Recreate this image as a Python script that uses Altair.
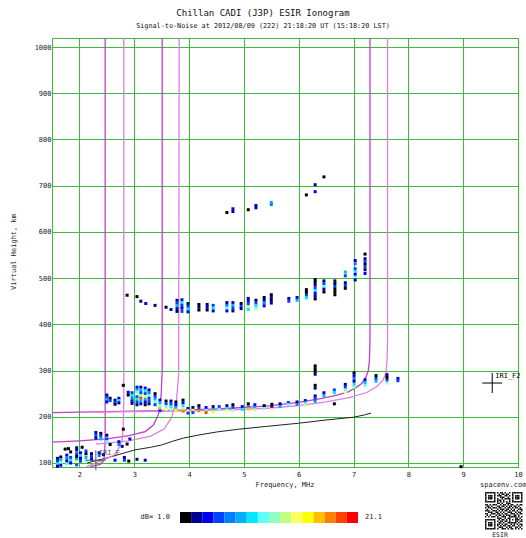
import altair as alt
import pandas as pd

# ---------------- data ----------------
X_TICKS = [2, 3, 4, 5, 6, 7, 8, 9, 10]
Y_TICKS = [100, 200, 300, 400, 500, 600, 700, 800, 900, 1000]
F_DOMAIN = [1.5, 10.0]
H_DOMAIN = [91.3, 1019.5]

SNR_MIN, SNR_MAX = 1.0, 21.1
SNR_COLORS = ["#000000", "#000090", "#0000f0", "#0040ff", "#0080ff", "#00b0ff",
              "#00e8ff", "#60ffff", "#90ffc0", "#c0ff80", "#ffff60", "#ffff00",
              "#ffc000", "#ff8000", "#ff4000", "#ff0000"]

# (frequency MHz, virtual height km, SNR dB)
F2_TRACE = [
    (2.50, 247, 3), (2.50, 242, 5), (2.50, 237, 8), (2.50, 232, 4),
    (2.56, 240, 2), (2.56, 235, 6),
    (2.65, 236, 3), (2.65, 231, 5), (2.65, 227, 3),
    (2.72, 240, 4), (2.72, 235, 9), (2.72, 230, 3),
    (2.80, 268, 2),
    (2.89, 253, 4), (2.89, 247, 2),
    (2.96, 252, 5), (2.96, 246, 9), (2.96, 240, 7), (2.96, 234, 4), (2.96, 229, 3),
    (3.05, 264, 4), (3.05, 259, 7), (3.05, 254, 10), (3.05, 248, 14), (3.05, 243, 6),
    (3.05, 238, 9), (3.05, 232, 5), (3.05, 226, 3),
    (3.12, 264, 3), (3.12, 258, 8), (3.12, 252, 5), (3.12, 246, 10), (3.12, 240, 19),
    (3.12, 234, 8), (3.12, 228, 4),
    (3.20, 262, 4), (3.20, 256, 9), (3.20, 250, 6), (3.20, 244, 16), (3.20, 238, 8),
    (3.20, 232, 4), (3.20, 226, 2),
    (3.27, 258, 3), (3.27, 252, 7), (3.27, 246, 10), (3.27, 240, 5), (3.27, 234, 6), (3.27, 228, 3),
    (3.38, 250, 2), (3.38, 244, 5), (3.38, 238, 8), (3.38, 232, 11), (3.38, 226, 5),
    (3.47, 236, 4), (3.47, 230, 8), (3.47, 224, 12), (3.47, 218, 17), (3.47, 213, 6),
    (3.58, 234, 2), (3.58, 228, 5), (3.58, 222, 10), (3.58, 216, 14),
    (3.67, 234, 3), (3.67, 228, 6), (3.67, 222, 9), (3.67, 216, 12),
    (3.76, 232, 2), (3.76, 226, 4), (3.76, 220, 8), (3.76, 214, 15),
    (3.89, 236, 1), (3.89, 230, 4), (3.89, 224, 9), (3.89, 218, 13), (3.89, 212, 18),
    (3.98, 218, 4), (3.98, 213, 14), (3.98, 208, 5),
    (4.07, 220, 3), (4.07, 214, 16), (4.07, 209, 6),
    (4.18, 224, 2), (4.18, 218, 6), (4.18, 213, 18),
    (4.31, 220, 4), (4.31, 214, 10), (4.31, 209, 19),
    (4.44, 222, 3), (4.44, 216, 8), (4.44, 211, 15),
    (4.55, 222, 5), (4.55, 216, 11),
    (4.69, 224, 3), (4.69, 218, 9), (4.69, 213, 14),
    (4.80, 226, 2), (4.80, 220, 6), (4.80, 214, 12),
    (4.97, 222, 4), (4.97, 216, 9),
    (5.08, 228, 2), (5.08, 222, 7), (5.08, 217, 17),
    (5.20, 226, 4), (5.20, 220, 8), (5.20, 215, 13),
    (5.37, 224, 2), (5.37, 218, 10),
    (5.51, 227, 1), (5.51, 221, 4), (5.51, 216, 14),
    (5.66, 228, 3), (5.66, 222, 8),
    (5.81, 231, 5), (5.81, 226, 10),
    (5.97, 232, 3), (5.97, 227, 7),
    (6.12, 235, 4), (6.12, 230, 9), (6.12, 226, 13),
    (6.30, 310, 1), (6.30, 304, 2), (6.30, 298, 1), (6.30, 292, 3),
    (6.30, 268, 2), (6.30, 262, 3),
    (6.30, 245, 3), (6.30, 240, 5), (6.30, 234, 7),
    (6.46, 252, 4), (6.46, 246, 8),
    (6.65, 258, 5), (6.65, 252, 9), (6.65, 228, 1),
    (6.85, 270, 3), (6.85, 264, 6), (6.85, 258, 10), (6.85, 252, 14),
    (7.01, 295, 2), (7.01, 289, 4), (7.01, 283, 7), (7.01, 277, 3), (7.01, 270, 9), (7.01, 264, 12),
    (7.21, 280, 4), (7.21, 274, 8), (7.21, 268, 11),
    (7.41, 289, 2), (7.41, 283, 5), (7.41, 277, 8),
    (7.61, 291, 3), (7.61, 285, 2), (7.61, 279, 6), (7.61, 273, 12),
    (7.81, 283, 4), (7.81, 278, 6),
]

F2_HOP2 = [
    (2.87, 463, 1), (3.05, 460, 2), (3.12, 450, 3), (3.21, 445, 4), (3.38, 441, 3),
    (3.58, 437, 2), (3.67, 432, 4),
    (3.78, 452, 3), (3.78, 446, 5), (3.78, 440, 8), (3.78, 434, 4), (3.78, 428, 2),
    (3.87, 453, 4), (3.87, 447, 9), (3.87, 441, 6), (3.87, 435, 3), (3.87, 428, 5),
    (3.98, 445, 3), (3.98, 439, 6), (3.98, 433, 9), (3.98, 427, 4),
    (4.18, 443, 2), (4.18, 437, 3), (4.18, 431, 1),
    (4.33, 443, 3), (4.33, 437, 4), (4.33, 431, 2),
    (4.44, 441, 6), (4.44, 435, 9), (4.44, 429, 4),
    (4.69, 447, 3), (4.69, 441, 7), (4.69, 435, 10), (4.69, 429, 4),
    (4.80, 447, 4), (4.80, 441, 8), (4.80, 435, 5), (4.80, 429, 3),
    (4.95, 445, 2), (4.95, 439, 5), (4.95, 434, 3),
    (5.08, 456, 3), (5.08, 450, 4), (5.08, 444, 6), (5.08, 438, 13), (5.08, 432, 9),
    (5.22, 452, 2), (5.22, 446, 5), (5.22, 440, 9), (5.22, 434, 12),
    (5.37, 458, 1), (5.37, 452, 3), (5.37, 446, 7), (5.37, 440, 4),
    (5.50, 464, 1), (5.50, 458, 4), (5.50, 452, 2), (5.50, 446, 3),
    (5.82, 456, 3), (5.82, 450, 5),
    (5.97, 458, 4), (5.97, 452, 8),
    (6.14, 475, 1), (6.14, 469, 2), (6.14, 463, 5), (6.14, 457, 9),
    (6.30, 497, 2), (6.30, 491, 1), (6.30, 485, 3), (6.30, 479, 6), (6.30, 473, 9),
    (6.30, 467, 4), (6.30, 461, 3), (6.30, 455, 2),
    (6.46, 494, 3), (6.46, 488, 6), (6.46, 482, 10), (6.46, 476, 4), (6.46, 470, 2),
    (6.66, 494, 3), (6.66, 488, 2), (6.66, 482, 5), (6.66, 476, 1), (6.66, 470, 2), (6.66, 464, 1),
    (6.85, 513, 8), (6.85, 505, 5), (6.85, 490, 3), (6.85, 484, 5), (6.85, 478, 2),
    (7.03, 538, 3), (7.03, 531, 7), (7.03, 520, 6), (7.03, 514, 9), (7.03, 508, 4),
    (7.03, 502, 10), (7.03, 496, 3),
    (7.21, 552, 1), (7.21, 542, 3), (7.21, 536, 5), (7.21, 530, 2), (7.21, 524, 6),
    (7.21, 518, 3), (7.21, 510, 4),
]

F2_HOP3 = [
    (4.69, 642, 1), (4.80, 650, 4), (4.80, 644, 3), (5.08, 648, 1), (5.22, 657, 3),
    (5.22, 652, 4), (5.50, 664, 8), (5.50, 659, 7), (6.14, 680, 2), (6.30, 702, 3),
    (6.30, 687, 4), (6.46, 719, 2),
]

LOW_ECHOES = [
    (1.60, 110, 3), (1.60, 104, 6), (1.60, 98, 9), (1.60, 93, 3),
    (1.66, 113, 2), (1.66, 107, 8), (1.66, 101, 12), (1.66, 95, 4),
    (1.74, 130, 2), (1.80, 131, 1),
    (1.77, 117, 4), (1.77, 110, 7), (1.77, 104, 3), (1.77, 98, 10),
    (1.84, 124, 2), (1.84, 112, 5), (1.84, 106, 9), (1.84, 100, 4),
    (1.95, 133, 3), (2.05, 134, 2),
    (1.95, 128, 3), (1.95, 120, 6), (1.95, 114, 2), (1.95, 108, 8), (1.95, 102, 14), (1.95, 96, 5),
    (2.02, 122, 4), (2.02, 116, 9), (2.02, 110, 3), (2.02, 104, 6),
    (2.12, 126, 5), (2.12, 120, 2), (2.12, 112, 8), (2.12, 105, 11),
    (2.22, 120, 3), (2.22, 114, 6), (2.22, 108, 4),
    (2.30, 166, 4), (2.30, 160, 6), (2.30, 154, 3),
    (2.39, 164, 2), (2.39, 158, 5), (2.39, 152, 8),
    (2.36, 122, 4), (2.36, 116, 7), (2.44, 118, 3),
    (2.50, 160, 3), (2.50, 152, 5), (2.50, 146, 10),
    (2.56, 140, 2), (2.65, 106, 4),
    (2.72, 146, 4), (2.72, 140, 7), (2.78, 136, 3),
    (2.80, 173, 1), (2.87, 141, 1), (2.92, 152, 4),
    (2.82, 112, 3), (2.82, 106, 5), (2.90, 104, 2),
    (3.05, 108, 3), (3.20, 106, 4),
    (8.96, 92, 1),
]

# Model traces (IRI): (frequency, virtual height)
E_O = [(2.20, 92), (2.38, 97), (2.44, 105), (2.46, 120), (2.47, 150), (2.47, 1019.5)]
E_X = [(2.13, 92), (2.43, 106), (2.62, 116), (2.70, 128), (2.78, 149), (2.80, 180),
       (2.81, 240), (2.81, 1019.5)]
F1_O = [(1.5, 145), (2.0, 148), (2.5, 152), (2.9, 159), (3.2, 168), (3.35, 182),
        (3.44, 205), (3.49, 245), (3.51, 300), (3.51, 1019.5)]
F1_X = [(2.3, 141), (2.5, 143), (2.9, 148), (3.3, 158), (3.55, 174), (3.68, 198),
        (3.77, 235), (3.81, 290), (3.82, 1019.5)]
F2_O = [(1.5, 209), (2.0, 210), (2.5, 211), (3.0, 212), (3.5, 213), (4.0, 215),
        (4.5, 217), (5.0, 220), (5.5, 224), (6.0, 231), (6.4, 239), (6.7, 247),
        (6.9, 254), (7.03, 262), (7.15, 272), (7.22, 284), (7.27, 300), (7.29, 322),
        (7.30, 360), (7.30, 1019.5)]
F2_X = [(2.3, 210), (3.0, 211), (4.0, 213), (5.0, 216), (5.5, 219), (6.0, 224),
        (6.5, 232), (6.94, 242), (7.25, 253), (7.42, 265), (7.54, 279), (7.59, 295),
        (7.61, 320), (7.62, 360), (7.62, 1019.5)]

TRUE_HEIGHT = [(2.14, 100), (2.5, 111), (2.8, 121), (3.0, 128), (3.3, 134), (3.5, 139),
               (3.7, 147), (3.9, 154), (4.2, 161), (4.5, 167), (4.9, 173), (5.4, 179),
               (6.0, 186), (6.5, 193), (7.0, 199), (7.2, 204), (7.32, 208)]

IRI_MARKS = [("IRI_E", 2.30, 106, "#555555"), ("IRI_F2", 9.53, 273, "#000000")]

QR_ROWS = [
    "1111111010110100101111111",
    "1000001001011011001000001",
    "1011101011100110101011101",
    "1011101000111001001011101",
    "1011101010010111101011101",
    "1000001011101000101000001",
    "1111111010101010101111111",
    "0000000011010011100000000",
    "1101011100101101011001011",
    "0110100011011010110110100",
    "1011011101100101101011010",
    "0100100010111011010100111",
    "1110011101010110101101001",
    "0011100110101001110010110",
    "1100111011010110011101011",
    "0101000101101011100110100",
    "1010111010011100111110101",
    "0000000011100101100011010",
    "1111111001011010101011101",
    "1000001010110110100011011",
    "1011101001101001111110100",
    "1011101011010110010101011",
    "1011101010101101101100101",
    "1000001001110010110011010",
    "1111111010011101011010101",
]

TITLE = "Chillan CADI (J3P) ESIR Ionogram"
SUBTITLE = "Signal-to-Noise at 2012/08/09 (222) 21:18:20 UT (15:18:20 LST)"

# ---------------- styling ----------------
W, H = 466, 429
GREEN = "#3dba3d"
MONO = "DejaVu Sans Mono"

xscale = alt.Scale(domain=F_DOMAIN, nice=False, zero=False)
yscale = alt.Scale(domain=H_DOMAIN, nice=False, zero=False)
xaxis = alt.Axis(values=X_TICKS, format="d", grid=True, gridColor=GREEN, gridOpacity=1,
                 gridWidth=1, ticks=False, domain=False, labelFont=MONO, labelFontSize=7,
                 labelColor="#222222", labelPadding=3, title=None, labelFlush=False,
                 labelOverlap=False)
yaxis = alt.Axis(values=Y_TICKS, format="d", grid=True, gridColor=GREEN, gridOpacity=1,
                 gridWidth=1, ticks=False, domain=False, labelFont=MONO, labelFontSize=7,
                 labelColor="#222222", labelPadding=1, title=None, labelFlush=False,
                 labelOverlap=False)


def X(field="f"):
    return alt.X(f"{field}:Q", scale=xscale, axis=xaxis)


def Y(field="h"):
    return alt.Y(f"{field}:Q", scale=yscale, axis=yaxis)


pts = pd.DataFrame(F2_TRACE + F2_HOP2 + F2_HOP3 + LOW_ECHOES, columns=["f", "h", "snr"])
points = alt.Chart(pts).mark_square(size=9, opacity=1).encode(
    x=X(), y=Y(),
    color=alt.Color("snr:Q", legend=None,
                    scale=alt.Scale(type="quantize", domain=[SNR_MIN, SNR_MAX],
                                    nice=False, range=SNR_COLORS)),
)


def curves_df(curves):
    rows = []
    for name, pts_ in curves:
        for i, (f, h) in enumerate(pts_):
            rows.append({"curve": name, "i": i, "f": f, "h": h})
    return pd.DataFrame(rows)


o_df = curves_df([("E", E_O), ("F1", F1_O), ("F2", F2_O)])
x_df = curves_df([("E", E_X), ("F1", F1_X), ("F2", F2_X)])
t_df = curves_df([("T", TRUE_HEIGHT)])

o_lines = alt.Chart(o_df).mark_line(color="#c040c8", strokeWidth=1.3, clip=True).encode(
    x=X(), y=Y(), detail="curve:N", order="i:Q")
x_lines = alt.Chart(x_df).mark_line(color="#dd80e0", strokeWidth=1.3, clip=True).encode(
    x=X(), y=Y(), detail="curve:N", order="i:Q")
t_line = alt.Chart(t_df).mark_line(color="#222222", strokeWidth=1, clip=True).encode(
    x=X(), y=Y(), order="i:Q")

iri = pd.DataFrame(IRI_MARKS, columns=["label", "f", "h", "c"])
iri_cross = alt.Chart(iri).mark_point(shape="M-1,0L1,0M0,-1L0,1", size=400, filled=False,
                                      strokeWidth=1, opacity=1).encode(
    x=X(), y=Y(), stroke=alt.Stroke("c:N", scale=None))
iri_text = alt.Chart(iri).mark_text(font=MONO, fontSize=7, align="left", baseline="bottom",
                                    dx=3, dy=-4).encode(
    x=X(), y=Y(), text="label:N", color=alt.Color("c:N", scale=None))

# colour bar (pixel positions relative to the plot area)
cb = pd.DataFrame({"c": SNR_COLORS, "k": list(range(len(SNR_COLORS)))})
cb["x0"] = 128 + cb["k"] * 11.125
cb["x1"] = cb["x0"] + 11.125
cb["y0"] = 474
cb["y1"] = 485
colorbar = alt.Chart(cb).mark_rect(strokeWidth=0).encode(
    x=alt.X("x0:Q", scale=None), x2="x1:Q",
    y=alt.Y("y0:Q", scale=None), y2="y1:Q",
    color=alt.Color("c:N", scale=None))

# QR code block
qr_rows = []
for r, row in enumerate(QR_ROWS):
    for c, ch in enumerate(row):
        if ch == "1":
            qr_rows.append({"r": r, "c": c})
qr = pd.DataFrame(qr_rows)
cell = 1.5
qr["x0"] = 433 + qr["c"] * cell
qr["x1"] = qr["x0"] + cell
qr["y0"] = 454 + qr["r"] * cell
qr["y1"] = qr["y0"] + cell
qrcode = alt.Chart(qr).mark_rect(color="#111111", strokeWidth=0).encode(
    x=alt.X("x0:Q", scale=None), x2="x1:Q",
    y=alt.Y("y0:Q", scale=None), y2="y1:Q")


def label(text, x, y, size=7, align="center", angle=0, color="#222222"):
    kw = dict(text=text, font=MONO, fontSize=size, align=align, baseline="middle",
              color=color)
    if angle:
        kw["angle"] = angle
    return alt.Chart(pd.DataFrame({"a": [0]})).mark_text(**kw).encode(
        x=alt.value(x), y=alt.value(y))


texts = [
    label(TITLE, 211, -25, size=9, color="#111111"),
    label(SUBTITLE, 211, -12, size=6.8, color="#111111"),
    label("Frequency, MHz", 233, 447),
    label("Virtual Height, km", -38, 214, angle=270),
    label("dB= 1.0", 118, 479, align="right"),
    label("21.1", 313, 479, align="left"),
    label("spacenv.com", 428, 447, align="left"),
    label("ESIR", 448, 497, size=6.5),
]

chart = alt.layer(
    t_line, o_lines, x_lines, points, iri_cross, iri_text, colorbar, qrcode, *texts
).properties(
    width=W, height=H,
    autosize=alt.AutoSizeParams(type="none"),
    padding={"left": 52, "top": 38, "right": 8, "bottom": 71},
    background="white",
).configure_view(stroke=GREEN, strokeWidth=1)

chart.save("out.html", embed_options={"renderer": "svg", "actions": False})
